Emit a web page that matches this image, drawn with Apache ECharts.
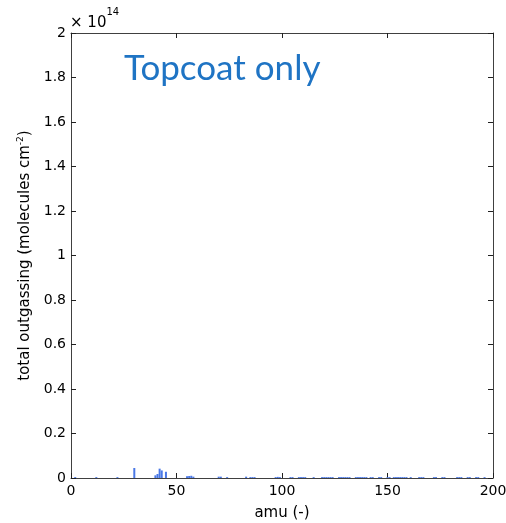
<!DOCTYPE html>
<html>
<head>
<meta charset="utf-8">
<script src="https://cdn.jsdelivr.net/npm/echarts@6/dist/echarts.min.js"></script>
<style>html,body{margin:0;padding:0;background:#fff}#c{width:506px;height:523px}</style>
</head>
<body>
<div id="c"></div>
<script>
// amu values and outgassing (units of 1e14 molecules cm^-2)
const amu = [2, 12, 22, 30, 40, 41, 42, 43, 45, 55, 56, 57, 58, 70, 71, 74, 83, 85, 86, 87, 97, 98, 99,
  104, 105, 108, 109, 110, 111, 115, 119, 120, 121, 122, 123, 124, 127, 128, 129, 130, 131, 132,
  135, 136, 137, 138, 139, 140, 142, 143, 146, 147, 150, 151, 153, 154, 155, 156, 157, 158, 159, 161,
  165, 166, 167, 172, 173, 176, 177, 183, 184, 185, 188, 189, 192, 193, 196];
const outgassing = [0.004, 0.004, 0.004, 0.045, 0.012, 0.018, 0.042, 0.034, 0.028, 0.008, 0.009, 0.01, 0.006, 0.006, 0.006, 0.004, 0.006, 0.004, 0.004, 0.004, 0.004, 0.005, 0.004,
  0.004, 0.004, 0.004, 0.004, 0.004, 0.004, 0.004, 0.004, 0.004, 0.004, 0.004, 0.004, 0.004, 0.004, 0.004, 0.004, 0.004, 0.004, 0.004,
  0.004, 0.004, 0.004, 0.004, 0.004, 0.004, 0.004, 0.004, 0.004, 0.004, 0.004, 0.004, 0.004, 0.004, 0.004, 0.004, 0.004, 0.004, 0.004, 0.004,
  0.004, 0.004, 0.004, 0.004, 0.004, 0.004, 0.004, 0.004, 0.004, 0.004, 0.004, 0.004, 0.004, 0.004, 0.004];
const xTicks = [0, 50, 100, 150, 200];
const yTicks = [0, 0.2, 0.4, 0.6, 0.8, 1, 1.2, 1.4, 1.6, 1.8, 2];
const titleText = 'Topcoat only';

const font = '"DejaVu Sans", sans-serif';
const titleFont = 'Lato, sans-serif';
const chart = echarts.init(document.getElementById('c'));
const axisCommon = {
  axisLine: {show: true, onZero: false, lineStyle: {color: '#404040', width: 1}},
  axisTick: {show: true, inside: true, length: 5, lineStyle: {color: '#202020'}},
  splitLine: {show: false}
};
chart.setOption({
  animation: false,
  grid: {left: 71, right: 13, top: 33, bottom: 45, containLabel: false, outerBoundsMode: 'none'},
  xAxis: [
    Object.assign({type: 'value', min: 0, max: 200, interval: 50, position: 'bottom',
      name: 'amu (-)', nameLocation: 'middle', nameGap: 28,
      nameTextStyle: {fontFamily: font, fontSize: 15, color: '#000'},
      axisLabel: {fontFamily: font, fontSize: 14, color: '#000', margin: 6,
        formatter: v => xTicks.includes(v) ? String(v) : ''}}, axisCommon),
    Object.assign({type: 'value', min: 0, max: 200, interval: 50, position: 'top',
      axisLabel: {show: false}}, axisCommon)
  ],
  yAxis: [
    Object.assign({type: 'value', min: 0, max: 2, interval: 0.2, position: 'left',
      name: '{n|total outgassing (molecules cm}{s|-2}{n|)}', nameLocation: 'middle', nameGap: 32,
      nameTextStyle: {rich: {n: {fontFamily: font, fontSize: 15, color: '#000'},
        s: {fontFamily: font, fontSize: 9, color: '#000', verticalAlign: 'bottom', padding: [0, 0, 9, 0]}}},
      axisLabel: {fontFamily: font, fontSize: 14, color: '#000', margin: 5,
        formatter: v => { const t = yTicks.find(k => Math.abs(k - v) < 1e-9); return t === undefined ? '' : String(t); }}}, axisCommon),
    Object.assign({type: 'value', min: 0, max: 2, interval: 0.2, position: 'right',
      axisLabel: {show: false}}, axisCommon)
  ],
  series: [{
    type: 'bar',
    xAxisIndex: 0, yAxisIndex: 0,
    data: amu.map((a, i) => [a, outgassing[i]]),
    barWidth: 2,
    itemStyle: {color: '#4a78e6'}
  }],
  graphic: [
    {type: 'text', left: 124, top: 51, style: {text: titleText, font: '35px ' + titleFont, fill: '#1f74c4'}},
    {type: 'text', left: 70, top: 7, style: {
      text: '{a|× 10}{b|14}',
      rich: {a: {fontFamily: font, fontSize: 15, fill: '#000', padding: [9, 0, 0, 0]}, b: {fontFamily: font, fontSize: 10, fill: '#000', verticalAlign: 'top'}}
    }}
  ]
});
</script>
</body>
</html>
